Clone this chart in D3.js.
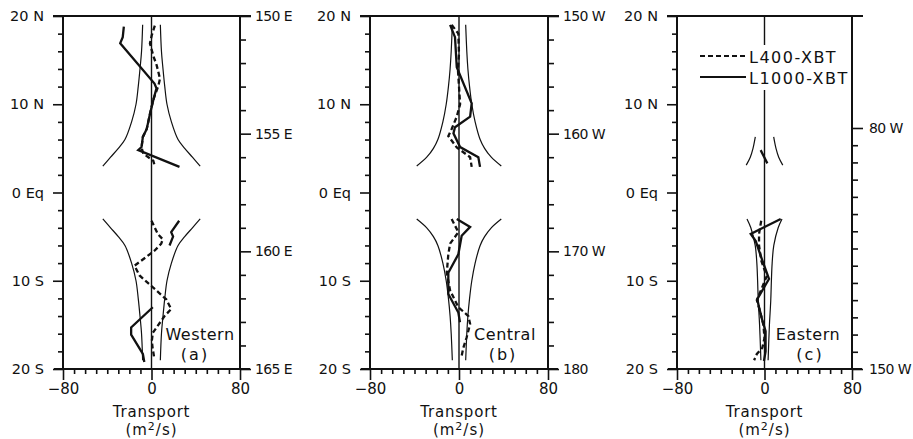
<!DOCTYPE html>
<html>
<head>
<meta charset="utf-8">
<script src="https://cdn.jsdelivr.net/npm/d3@7"></script>
<style>
  body { margin: 0; background: #fff; }
  svg text { font-family: "DejaVu Sans", sans-serif; fill: #111; }
</style>
</head>
<body>
<svg id="fig" width="913" height="439"></svg>
<script>
// left axis (latitude)
var latMajor = [20, 10, 0, -10, -20];
var latLabels = ["20 N", "10 N", "0 Eq", "10 S", "20 S"];
var latMinor = [18, 16, 14, 12, 8, 6, 4, 2, -2, -4, -6, -8, -12, -14, -16, -18];
// bottom axis (transport)
var xMajor = [-80, 0, 80];
var xLabels = ["\u221280", "0", "80"];
var xMinor = [-70, -60, -50, -40, -30, -20, -10, 10, 20, 30, 40, 50, 60, 70];

// western panel (a) -- null breaks the line
var westLat1000 = [18.8, 17.6, 16.9, 12.35, 11.8, 10.45, 8.9, 7.2, 6.3, 5.15, 4.8, 2.9, null, -3.2, -4.5, -5.0, -6.0, null, -13.0, -15.3, -16.1, -18.3, -19.2];
var westL1000   = [-25, -26, -28.3, 2.7, 4.5, 1.6, -1.4, -4.3, -7.8, -9, -12, 25.3, null, 25, 17.8, 19.5, 16.3, null, 1.2, -18.4, -18.4, -7.8, -6.5];
var westLat400  = [18.9, 17.8, 16.9, 15.5, 14.4, 12.9, 12.1, 11.0, 10.5, 8.9, 7.2, 6.3, 5.1, 4.4, 3.6, 3.0, null, -3.2, -4.7, -5.3, -5.8, -6.6, -8.3, -9.4, -12.1, -13.2, -14.0, -15.9, -16.8, -17.6, -18.7];
var westL400    = [3, 0.2, -1.4, 1.6, 4.7, 7.7, 6.2, 3, 1.6, -1.4, -4.3, -7.8, -9, -7.4, 1.6, 3, null, 0, 5.7, 10.2, 8.8, 2.7, -15.4, -10.8, 13.3, 17.8, 11.8, 1.2, 0.3, 1, 2.4];
var westEnvLat  = [3, 4, 5, 6, 8, 10, 12, 14, 16, 19];
var westEnvHalf = [44, 37, 30, 24, 18, 14, 12, 10.4, 9, 8];

// central panel (b)
var centLat1000 = [19.0, 17.6, 14.2, 10.1, 8.6, 7.4, 6.7, 5.15, 4.0, 2.9, null, -3.0, -3.9, -4.9, -7.0, -9.1, -11.5, -13.6, -14.7];
var centL1000   = [-8, -3.6, -2, 11.4, 10, -3.6, -5, 1, 17.4, 18.9, null, -2, 10, 2.4, -0.6, -9.6, -9.6, -0.6, 0.9];
var centLat400  = [19.0, 18.0, 15.7, 14, 12, 10, 8.6, 7.2, 6.4, 5.1, 4.0, 2.9, null, -3.0, -4.5, -5.8, -7.0, -9.1, -11.1, -13.0, -14.0, -14.9, -16.4, -17.6, -18.5];
var centL400    = [-6.5, -0.6, 0, -1, 0, 1, -2, -6.6, -9.6, -2, 10, 11.4, null, -6.6, -0.6, -8, -9.6, -11, -8, -0.6, 8.4, 10, 6.9, 3.9, 2.4];
var centEnvLat  = [3, 4, 5, 6, 8, 10, 12, 14, 16, 19];
var centEnvHalf = [38, 29, 23, 19, 14.5, 11.5, 9.5, 8, 7, 6];

// eastern panel (c)
var eastLat1000 = [4.8, 3.3, null, -3.0, -4.7, -5.5, -7.7, -9.8, -11.1, -12.1, -13.0, -14.5, -15.7, -18.0, -19.1];
var eastL1000   = [-3.5, 2.6, null, 14.8, -12.6, -8, -2, 4.1, -2, -6.6, -5, -2, 1, 1, -0.5];
var eastLat400  = [-3.2, -4.7, -6.0, -7.7, -9.5, -11.0, -12.2, -13.5, -15.0, -16.5, -17.6, -18.3, -19.0];
var eastL400    = [-3, -5, -5, -3, 2, -3, -7, -4, -1, 0, -2, -7, -9.5];
var eastEnvLatN  = [3.1, 4, 5, 6.3];
var eastEnvHalfN = [16.7, 13, 10.5, 8.4];
var eastEnvLatS  = [3, 4, 6, 8, 10, 12.3, 15, 19];
var eastEnvHalfS = [16, 12.5, 8.5, 7, 6.3, 5.7, 4.5, 3.3];

var panels = [
  {x0: 63, x1: 240, name: "Western", tag: "(a)", nameX: 200, tagX: 195,
   lonDom: [150, 165], lonRange: [16, 369], lonStep: 1, lonMajor: [150, 155, 160, 165],
   lonLabels: ["150 E", "155 E", "160 E", "165 E"], lonPad: 4,
   lat1000: westLat1000, v1000: westL1000, lat400: westLat400, v400: westL400,
   envN: [westEnvLat, westEnvHalf], envS: [westEnvLat, westEnvHalf]},
  {x0: 370, x1: 548, name: "Central", tag: "(b)", nameX: 505, tagX: 503,
   lonDom: [150, 180], lonRange: [16, 369], lonStep: 2, lonMajor: [150, 160, 170, 180],
   lonLabels: ["150 W", "160 W", "170 W", "180"], lonPad: 4,
   lat1000: centLat1000, v1000: centL1000, lat400: centLat400, v400: centL400,
   envN: [centEnvLat, centEnvHalf], envS: [centEnvLat, centEnvHalf]},
  {x0: 677, x1: 852, name: "Eastern", tag: "(c)", nameX: 808, tagX: 810,
   lonDom: [80, 150], lonRange: [128, 369], lonStep: 5, lonMajor: [80, 150],
   lonLabels: ["80 W", "150 W"], lonPad: 6,
   lat1000: eastLat1000, v1000: eastL1000, lat400: eastLat400, v400: eastL400,
   envN: [eastEnvLatN, eastEnvHalfN], envS: [eastEnvLatS, eastEnvHalfS]}
];

var svg = d3.select("#fig");
var y = d3.scaleLinear().domain([20, -20]).range([16, 369]);
var ink = "#111";

function zipPts(lats, vals) {
  return lats.map(function(l, i) { return [l, vals[i]]; });
}

panels.forEach(function(p, k) {
  var x = d3.scaleLinear().domain([-80, 80]).range([p.x0, p.x1]);
  var lon = d3.scaleLinear().domain(p.lonDom).range(p.lonRange);
  var g = svg.append("g");

  // left axis
  g.append("g").attr("transform", "translate(" + p.x0 + ",0)")
    .call(d3.axisLeft(y).tickValues(latMinor).tickSize(5).tickFormat(""));
  var la = g.append("g").attr("transform", "translate(" + p.x0 + ",0)")
    .call(d3.axisLeft(y).tickValues(latMajor).tickSize(10).tickPadding(9)
      .tickFormat(function(d, i) { return latLabels[i]; }));
  la.selectAll("text").attr("font-size", 14.5);

  // right axis
  var lonMinor = d3.range(p.lonDom[0], p.lonDom[1] + 0.01, p.lonStep)
    .filter(function(v) { return p.lonMajor.indexOf(v) < 0; });
  g.append("g").attr("transform", "translate(" + p.x1 + ",0)")
    .call(d3.axisRight(lon).tickValues(lonMinor).tickSize(6).tickFormat(""));
  var ra = g.append("g").attr("transform", "translate(" + p.x1 + ",0)")
    .call(d3.axisRight(lon).tickValues(p.lonMajor).tickSize(11).tickPadding(p.lonPad)
      .tickFormat(function(d, i) { return p.lonLabels[i]; }));
  ra.selectAll("text").attr("font-size", 14).attr("letter-spacing", -0.6);

  // bottom axis
  g.append("g").attr("transform", "translate(0,369)")
    .call(d3.axisBottom(x).tickValues(xMinor).tickSize(5).tickFormat(""));
  var ba = g.append("g").attr("transform", "translate(0,369)")
    .call(d3.axisBottom(x).tickValues(xMajor).tickSize(11).tickPadding(3)
      .tickFormat(function(d, i) { return xLabels[i]; }));
  ba.selectAll("text").attr("font-size", 15);

  g.selectAll(".domain").remove();
  g.selectAll(".tick line").attr("stroke", ink).attr("stroke-width", 1.6);
  g.selectAll(".tick text").attr("font-family", "DejaVu Sans").attr("fill", ink);

  // frame
  var frame = [[p.x0 - 10, 16, p.x1 + 11, 16], [p.x0 - 9, 369, p.x1 + 10, 369],
               [p.x0, 16, p.x0, 369], [p.x1, 16, p.x1, 369]];
  g.selectAll(".frame").data(frame).enter().append("line")
    .attr("x1", function(d) { return d[0]; }).attr("y1", function(d) { return d[1]; })
    .attr("x2", function(d) { return d[2]; }).attr("y2", function(d) { return d[3]; })
    .attr("stroke", ink).attr("stroke-width", 2);

  // zero line
  g.append("line").attr("x1", x(0)).attr("x2", x(0)).attr("y1", 16).attr("y2", 369)
    .attr("stroke", ink).attr("stroke-width", 1.4);

  // envelope curves
  var env = d3.line().x(function(d) { return x(d[1]); }).y(function(d) { return y(d[0]); })
    .curve(d3.curveCatmullRom);
  [[p.envN, 1], [p.envS, -1]].forEach(function(e) {
    [1, -1].forEach(function(side) {
      var pts = e[0][0].map(function(l, i) { return [l * e[1], side * e[0][1][i]]; });
      g.append("path").attr("d", env(pts)).attr("fill", "none")
        .attr("stroke", ink).attr("stroke-width", 1.2);
    });
  });

  // profiles
  var prof = d3.line().defined(function(d) { return d[0] != null; })
    .x(function(d) { return x(d[1]); }).y(function(d) { return y(d[0]); });
  g.append("path").attr("d", prof(zipPts(p.lat400, p.v400))).attr("fill", "none")
    .attr("stroke", ink).attr("stroke-width", 2.3).attr("stroke-dasharray", "5,3");
  g.append("path").attr("d", prof(zipPts(p.lat1000, p.v1000))).attr("fill", "none")
    .attr("stroke", ink).attr("stroke-width", 2.3);

  // panel name
  g.append("text").attr("x", p.nameX).attr("y", 340).attr("text-anchor", "middle")
    .attr("font-size", 16).attr("letter-spacing", 0.5).text(p.name);
  g.append("text").attr("x", p.tagX).attr("y", 360).attr("text-anchor", "middle")
    .attr("font-size", 16).attr("letter-spacing", 2).text(p.tag);

  // x title
  g.append("text").attr("x", x(0)).attr("y", 417).attr("text-anchor", "middle")
    .attr("font-size", 15).attr("letter-spacing", 0.8).text("Transport");
  var u = g.append("text").attr("x", x(0)).attr("y", 435).attr("text-anchor", "middle")
    .attr("font-size", 15).attr("letter-spacing", 1);
  u.append("tspan").text("(m");
  u.append("tspan").attr("dy", -5).attr("font-size", 11).text("2");
  u.append("tspan").attr("dy", 5).text("/s)");

  // legend in eastern panel
  if (k === 2) {
    g.append("rect").attr("x", 695).attr("y", 45).attr("width", 150).attr("height", 45).attr("fill", "#fff");
    g.append("line").attr("x1", 700).attr("x2", 746).attr("y1", 56).attr("y2", 56)
      .attr("stroke", ink).attr("stroke-width", 2.2).attr("stroke-dasharray", "5,3");
    g.append("line").attr("x1", 700).attr("x2", 746).attr("y1", 77).attr("y2", 77)
      .attr("stroke", ink).attr("stroke-width", 2.2);
    g.append("text").attr("x", 749).attr("y", 63).attr("font-size", 16).attr("letter-spacing", 1.5).text("L400-XBT");
    g.append("text").attr("x", 749).attr("y", 84).attr("font-size", 16).attr("letter-spacing", 1.5).text("L1000-XBT");
  }
});
</script>
</body>
</html>
